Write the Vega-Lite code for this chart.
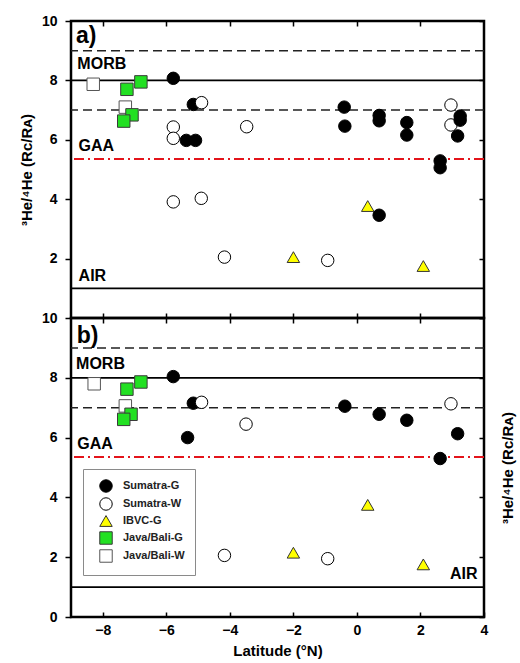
{
  "$schema": "https://vega.github.io/schema/vega-lite/v6.json",
  "padding": {"left": 18, "top": 12, "right": 2, "bottom": 2},
  "bounds": "flush",
  "spacing": 0,
  "config": {
    "view": {"stroke": "black", "strokeWidth": 2.5},
    "font": "Liberation Sans",
    "axis": {
      "grid": false, "domain": false,
      "labelFont": "Liberation Sans", "labelFontWeight": "bold", "labelFontSize": 14, "labelColor": "black",
      "tickColor": "black", "tickWidth": 1.5,
      "titleFont": "Liberation Sans", "titleFontWeight": "bold", "titleFontSize": 15, "titleColor": "black",
      "labelFlush": false
    }
  },
  "resolve": {"legend": {"shape": "independent", "fill": "independent", "stroke": "independent", "size": "independent"}},
  "datasets": {
    "refs": [
      {"v": 9, "k": "dash"}, {"v": 7, "k": "dash"},
      {"v": 8, "k": "solid"}, {"v": 1, "k": "solid"},
      {"v": 5.35, "k": "red"}
    ],
    "pa": [
      {"group": "Java/Bali-W", "lat": -8.30, "he": 7.87},
      {"group": "Java/Bali-W", "lat": -7.29, "he": 7.10},
      {"group": "Java/Bali-G", "lat": -7.24, "he": 7.70},
      {"group": "Java/Bali-G", "lat": -6.80, "he": 7.95},
      {"group": "Java/Bali-G", "lat": -7.08, "he": 6.84},
      {"group": "Java/Bali-G", "lat": -7.34, "he": 6.63},
      {"group": "Sumatra-G", "lat": -5.78, "he": 8.07},
      {"group": "Sumatra-G", "lat": -5.15, "he": 7.19},
      {"group": "Sumatra-G", "lat": -5.37, "he": 5.98},
      {"group": "Sumatra-G", "lat": -5.08, "he": 5.98},
      {"group": "Sumatra-W", "lat": -4.89, "he": 7.25},
      {"group": "Sumatra-W", "lat": -5.78, "he": 6.43},
      {"group": "Sumatra-W", "lat": -5.78, "he": 6.05},
      {"group": "Sumatra-W", "lat": -3.47, "he": 6.44},
      {"group": "Sumatra-W", "lat": -5.78, "he": 3.91},
      {"group": "Sumatra-W", "lat": -4.90, "he": 4.03},
      {"group": "Sumatra-W", "lat": -4.17, "he": 2.05},
      {"group": "Sumatra-W", "lat": 2.96, "he": 7.17},
      {"group": "Sumatra-W", "lat": 2.96, "he": 6.50},
      {"group": "Sumatra-W", "lat": -0.92, "he": 1.94},
      {"group": "IBVC-G", "lat": -2.00, "he": 2.05},
      {"group": "IBVC-G", "lat": 0.34, "he": 3.77},
      {"group": "IBVC-G", "lat": 2.09, "he": 1.75},
      {"group": "Sumatra-G", "lat": -0.40, "he": 7.10},
      {"group": "Sumatra-G", "lat": -0.38, "he": 6.46},
      {"group": "Sumatra-G", "lat": 0.70, "he": 6.82},
      {"group": "Sumatra-G", "lat": 0.70, "he": 6.64},
      {"group": "Sumatra-G", "lat": 1.57, "he": 6.58},
      {"group": "Sumatra-G", "lat": 1.57, "he": 6.16},
      {"group": "Sumatra-G", "lat": 2.62, "he": 5.29},
      {"group": "Sumatra-G", "lat": 2.62, "he": 5.06},
      {"group": "Sumatra-G", "lat": 3.25, "he": 6.80},
      {"group": "Sumatra-G", "lat": 3.25, "he": 6.66},
      {"group": "Sumatra-G", "lat": 3.17, "he": 6.13},
      {"group": "Sumatra-G", "lat": 0.70, "he": 3.46}
    ],
    "pb": [
      {"group": "Java/Bali-W", "lat": -8.27, "he": 7.80},
      {"group": "Java/Bali-W", "lat": -7.29, "he": 7.06},
      {"group": "Java/Bali-G", "lat": -7.24, "he": 7.62},
      {"group": "Java/Bali-G", "lat": -6.80, "he": 7.86},
      {"group": "Java/Bali-G", "lat": -7.11, "he": 6.78},
      {"group": "Java/Bali-G", "lat": -7.34, "he": 6.61},
      {"group": "Sumatra-G", "lat": -5.78, "he": 8.04},
      {"group": "Sumatra-G", "lat": -5.15, "he": 7.15},
      {"group": "Sumatra-G", "lat": -5.33, "he": 6.00},
      {"group": "Sumatra-W", "lat": -4.89, "he": 7.18},
      {"group": "Sumatra-W", "lat": -3.49, "he": 6.45},
      {"group": "Sumatra-W", "lat": -4.17, "he": 2.06},
      {"group": "Sumatra-W", "lat": 2.96, "he": 7.13},
      {"group": "Sumatra-W", "lat": -0.92, "he": 1.95},
      {"group": "IBVC-G", "lat": -2.00, "he": 2.15},
      {"group": "IBVC-G", "lat": 0.34, "he": 3.75},
      {"group": "IBVC-G", "lat": 2.09, "he": 1.76},
      {"group": "Sumatra-G", "lat": -0.38, "he": 7.05},
      {"group": "Sumatra-G", "lat": 0.70, "he": 6.78},
      {"group": "Sumatra-G", "lat": 1.57, "he": 6.58},
      {"group": "Sumatra-G", "lat": 2.62, "he": 5.30},
      {"group": "Sumatra-G", "lat": 3.17, "he": 6.13}
    ],
    "la": [
      {"t": "MORB", "lat": -8.80, "v": 8.55},
      {"t": "GAA", "lat": -8.76, "v": 5.79},
      {"t": "AIR", "lat": -8.76, "v": 1.41}
    ],
    "lb": [
      {"t": "MORB", "lat": -8.84, "v": 8.45},
      {"t": "GAA", "lat": -8.80, "v": 5.80},
      {"t": "AIR", "lat": 2.93, "v": 1.43}
    ],
    "tagA": [{"t": "a)", "lat": -8.84, "v": 9.5}],
    "tagB": [{"t": "b)", "lat": -8.82, "v": 9.4}]
  },
  "vconcat": [
    {
      "width": 413, "height": 297,
      "resolve": {"axis": {"x": "independent", "y": "independent"}},
      "layer": [
        {"data": {"name": "refs"}, "transform": [{"filter": "datum.k === 'dash'"}],
         "mark": {"type": "rule", "strokeDash": [9, 5], "color": "#222222", "strokeWidth": 1.5},
         "encoding": {"y": {"field": "v", "type": "quantitative", "scale": {"domain": [0, 10], "nice": false}, "axis": null}}},
        {"data": {"name": "refs"}, "transform": [{"filter": "datum.k === 'solid'"}],
         "mark": {"type": "rule", "color": "black", "strokeWidth": 1.8},
         "encoding": {"y": {"field": "v", "type": "quantitative", "axis": null}}},
        {"data": {"name": "refs"}, "transform": [{"filter": "datum.k === 'red'"}],
         "mark": {"type": "rule", "color": "#e3141b", "strokeWidth": 2, "strokeDash": [10, 4, 2, 4]},
         "encoding": {"y": {"field": "v", "type": "quantitative", "axis": null}}},
        {"data": {"name": "pa"},
         "mark": {"type": "point", "filled": true, "opacity": 1, "strokeWidth": 1},
         "encoding": {
           "x": {"field": "lat", "type": "quantitative", "scale": {"domain": [-9, 4], "nice": false, "zero": false},
                 "axis": {"orient": "bottom", "values": [-8, -6, -4, -2, 0, 2], "labels": false, "title": null, "tickSize": -5}},
           "y": {"field": "he", "type": "quantitative", "scale": {"domain": [0, 10], "nice": false},
                 "axis": {"orient": "left", "values": [2, 4, 6, 8, 10], "title": "³He/⁴He (Rᴄ/Rᴀ)", "tickSize": 6, "labelPadding": 8, "titlePadding": 7}},
           "shape": {"field": "group", "type": "nominal", "scale": {"domain": ["Sumatra-G", "Sumatra-W", "IBVC-G", "Java/Bali-G", "Java/Bali-W"], "range": ["circle", "circle", "triangle-up", "square", "square"]}, "legend": null},
           "fill": {"field": "group", "type": "nominal", "scale": {"domain": ["Sumatra-G", "Sumatra-W", "IBVC-G", "Java/Bali-G", "Java/Bali-W"], "range": ["#000000", "#ffffff", "#ffff00", "#22e022", "#ffffff"]}, "legend": null},
           "stroke": {"field": "group", "type": "nominal", "scale": {"domain": ["Sumatra-G", "Sumatra-W", "IBVC-G", "Java/Bali-G", "Java/Bali-W"], "range": ["#000000", "#000000", "#333333", "#3a3a3a", "#555555"]}, "legend": null},
           "size": {"field": "group", "type": "nominal", "scale": {"domain": ["Sumatra-G", "Sumatra-W", "IBVC-G", "Java/Bali-G", "Java/Bali-W"], "range": [155, 155, 400, 185, 185]}, "legend": null}
         }},
        {"data": {"name": "la"},
         "mark": {"type": "text", "align": "left", "baseline": "middle", "fontWeight": "bold", "fontSize": 16, "font": "Liberation Sans", "color": "black"},
         "encoding": {
           "x": {"field": "lat", "type": "quantitative", "axis": {"orient": "top", "values": [-8, -6, -4, -2, 0, 2], "labels": false, "title": null, "tickSize": -5}},
           "y": {"field": "v", "type": "quantitative", "axis": {"orient": "right", "values": [0, 2, 4, 6, 8, 10], "labels": false, "title": null, "tickSize": -5}},
           "text": {"field": "t"}
         }},
        {"data": {"name": "tagA"},
         "mark": {"type": "text", "align": "left", "baseline": "middle", "fontWeight": "bold", "fontSize": 23, "font": "Liberation Sans", "color": "black"},
         "encoding": {
           "x": {"field": "lat", "type": "quantitative", "axis": null},
           "y": {"field": "v", "type": "quantitative", "axis": null},
           "text": {"field": "t"}
         }}
      ]
    },
    {
      "width": 413, "height": 299,
      "resolve": {"axis": {"x": "independent", "y": "independent"}},
      "layer": [
        {"data": {"name": "refs"}, "transform": [{"filter": "datum.k === 'dash'"}],
         "mark": {"type": "rule", "strokeDash": [9, 5], "color": "#222222", "strokeWidth": 1.5},
         "encoding": {"y": {"field": "v", "type": "quantitative", "scale": {"domain": [0, 10], "nice": false}, "axis": null}}},
        {"data": {"name": "refs"}, "transform": [{"filter": "datum.k === 'solid'"}],
         "mark": {"type": "rule", "color": "black", "strokeWidth": 1.8},
         "encoding": {"y": {"field": "v", "type": "quantitative", "axis": null}}},
        {"data": {"name": "refs"}, "transform": [{"filter": "datum.k === 'red'"}],
         "mark": {"type": "rule", "color": "#e3141b", "strokeWidth": 2, "strokeDash": [10, 4, 2, 4]},
         "encoding": {"y": {"field": "v", "type": "quantitative", "axis": null}}},
        {"data": {"name": "pb"},
         "mark": {"type": "point", "filled": true, "opacity": 1, "strokeWidth": 1},
         "encoding": {
           "x": {"field": "lat", "type": "quantitative", "scale": {"domain": [-9, 4], "nice": false, "zero": false},
                 "axis": {"orient": "bottom", "values": [-8, -6, -4, -2, 0, 2, 4], "title": "Latitude (°N)", "tickSize": -5, "labelPadding": 11, "titlePadding": 6}},
           "y": {"field": "he", "type": "quantitative", "scale": {"domain": [0, 10], "nice": false},
                 "axis": {"orient": "left", "values": [0, 2, 4, 6, 8, 10], "title": null, "tickSize": 6, "labelPadding": 8}},
           "shape": {"field": "group", "type": "nominal", "scale": {"domain": ["Sumatra-G", "Sumatra-W", "IBVC-G", "Java/Bali-G", "Java/Bali-W"], "range": ["circle", "circle", "triangle-up", "square", "square"]},
                     "legend": {"title": null, "orient": "none", "legendX": 12, "legendY": 151, "padding": 10, "fillColor": "white", "strokeColor": "#8a8a8a", "labelFont": "Liberation Sans", "labelFontWeight": "bold", "labelFontSize": 11, "labelColor": "#222222", "rowPadding": 0, "symbolOffset": 6, "labelOffset": 10, "symbolStrokeWidth": 1}},
           "fill": {"field": "group", "type": "nominal", "scale": {"domain": ["Sumatra-G", "Sumatra-W", "IBVC-G", "Java/Bali-G", "Java/Bali-W"], "range": ["#000000", "#ffffff", "#ffff00", "#22e022", "#ffffff"]}},
           "stroke": {"field": "group", "type": "nominal", "scale": {"domain": ["Sumatra-G", "Sumatra-W", "IBVC-G", "Java/Bali-G", "Java/Bali-W"], "range": ["#000000", "#000000", "#333333", "#3a3a3a", "#555555"]}},
           "size": {"field": "group", "type": "nominal", "scale": {"domain": ["Sumatra-G", "Sumatra-W", "IBVC-G", "Java/Bali-G", "Java/Bali-W"], "range": [155, 155, 400, 185, 185]}}
         }},
        {"data": {"name": "lb"},
         "mark": {"type": "text", "align": "left", "baseline": "middle", "fontWeight": "bold", "fontSize": 16, "font": "Liberation Sans", "color": "black"},
         "encoding": {
           "x": {"field": "lat", "type": "quantitative", "axis": {"orient": "top", "values": [-8, -6, -4, -2, 0, 2], "labels": false, "title": null, "tickSize": -5}},
           "y": {"field": "v", "type": "quantitative", "axis": {"orient": "right", "values": [0, 2, 4, 6, 8, 10], "labels": false, "title": "³He/⁴He (Rᴄ/Rᴀ)", "titleAngle": 270, "tickSize": -5, "titlePadding": 31}},
           "text": {"field": "t"}
         }},
        {"data": {"name": "tagB"},
         "mark": {"type": "text", "align": "left", "baseline": "middle", "fontWeight": "bold", "fontSize": 23, "font": "Liberation Sans", "color": "black"},
         "encoding": {
           "x": {"field": "lat", "type": "quantitative", "axis": null},
           "y": {"field": "v", "type": "quantitative", "axis": null},
           "text": {"field": "t"}
         }}
      ]
    }
  ]
}
